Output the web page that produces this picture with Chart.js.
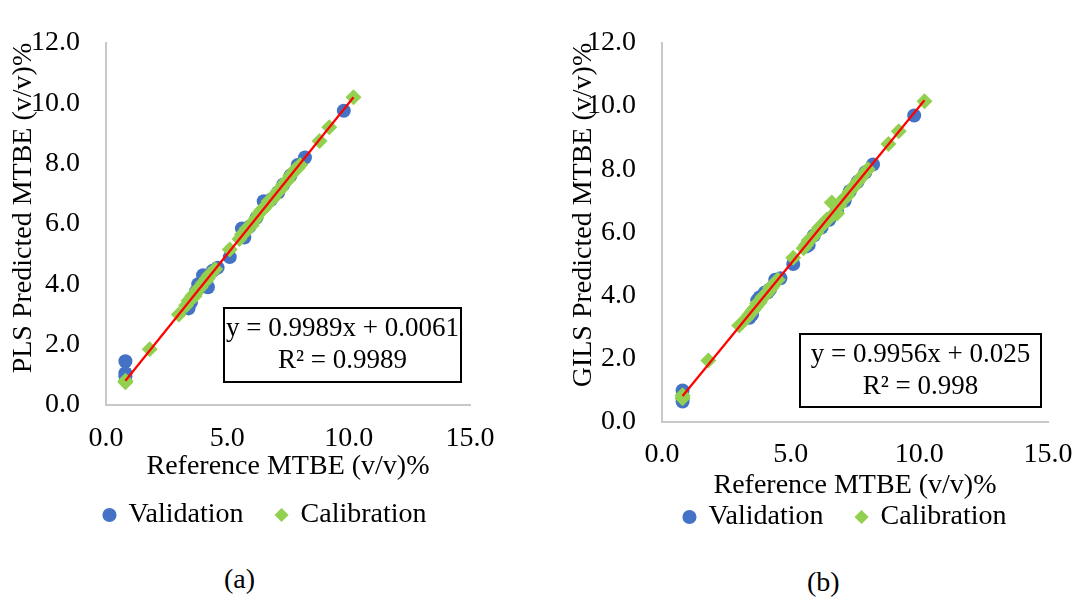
<!DOCTYPE html>
<html>
<head>
<meta charset="utf-8">
<script src="https://cdn.jsdelivr.net/npm/chart.js@4.4.1/dist/chart.umd.min.js"></script>
<style>
  html, body { margin: 0; padding: 0; background: #fff; overflow: hidden; }
  #wrap { position: relative; width: 1077px; height: 605px; overflow: hidden; }
  canvas { position: absolute; top: 0; }
  .cap { position: absolute; font-family: 'Liberation Serif', 'Times New Roman', serif; font-size: 28px; color: #000; }
</style>
</head>
<body>
<div id="wrap">
  <canvas id="pls" width="531" height="539" style="left:0px"></canvas>
  <canvas id="gils" width="591" height="541" style="left:550px"></canvas>
  <div class="cap" style="left:224px; top:563px;">(a)</div>
  <div class="cap" style="left:807px; top:566px;">(b)</div>
</div>
<script>
// Reference MTBE (x) for the validation and calibration samples
const valRef = [0.8, 0.8, 0.8, 3.4, 3.5, 3.7, 3.8, 4.0, 4.1, 4.2, 4.4, 4.6, 5.1, 5.6, 5.7, 5.9, 6.2, 6.5, 6.8, 7.1, 7.3, 7.6, 7.9, 8.2, 9.8];
const calRef = [0.8, 0.8, 1.8, 3.0, 3.3, 3.4, 3.5, 3.55, 3.6, 3.65, 3.7, 3.75, 3.8, 3.9, 4.0, 4.1, 4.15, 4.2, 4.25, 4.3,
                4.5, 5.1, 5.5, 5.6, 5.7, 5.8, 5.9, 6.0, 6.1, 6.2, 6.3, 6.4, 6.5, 6.6, 6.7, 6.8, 6.9, 7.0, 7.1, 7.2,
                7.3, 7.4, 7.5, 7.6, 7.7, 7.8, 7.9, 8.0, 8.8, 9.2, 10.2];

// (a) PLS predicted
const plsVal = [1.45, 1.05, 0.95, 3.2, 3.4, 3.75, 4.0, 4.3, 4.0, 3.9, 4.45, 4.55, 4.9, 5.85, 5.55, 5.9, 6.2, 6.75, 6.8, 7.05, 7.3, 7.6, 7.95, 8.2, 9.75];
const plsCal = [0.8, 0.75, 1.85, 3.0, 3.3, 3.45, 3.5, 3.6, 3.65, 3.6, 3.7, 3.8, 3.85, 3.9, 4.05, 4.1, 4.2, 4.2, 4.3, 4.35,
                4.5, 5.15, 5.5, 5.65, 5.7, 5.85, 5.9, 5.95, 6.1, 6.2, 6.35, 6.45, 6.5, 6.6, 6.75, 6.8, 6.85, 7.0, 7.1, 7.15,
                7.3, 7.4, 7.45, 7.6, 7.7, 7.8, 7.85, 7.95, 8.75, 9.2, 10.2];
const plsFit = [0.9989, 0.0061];
const plsEq = ['y = 0.9989x + 0.0061', 'R² = 0.9989'];

// (b) GILS predicted
const gilsVal = [1.0, 0.75, 0.65, 3.3, 3.4, 3.85, 3.95, 4.1, 4.1, 4.2, 4.5, 4.55, 5.0, 5.55, 5.6, 5.9, 6.15, 6.4, 6.7, 7.0, 7.3, 7.6, 7.9, 8.15, 9.7];
const gilsCal = [0.85, 0.75, 1.95, 3.05, 3.3, 3.4, 3.5, 3.55, 3.6, 3.65, 3.75, 3.75, 3.8, 3.95, 4.0, 4.1, 4.15, 4.25, 4.25, 4.3,
                 4.5, 5.2, 5.5, 5.6, 5.75, 5.8, 5.9, 6.0, 6.15, 6.2, 6.3, 6.4, 6.45, 6.95, 6.6, 6.6, 6.85, 7.0, 7.1, 7.15,
                 7.3, 7.4, 7.5, 7.6, 7.7, 7.8, 7.9, 8.0, 8.8, 9.2, 10.15];
const gilsFit = [0.9956, 0.025];
const gilsEq = ['y = 0.9956x + 0.025', 'R² = 0.998'];

const xTickValues = [0, 5, 10, 15];
const yTickValues = [0, 2, 4, 6, 8, 10, 12];
const seriesNames = ['Validation', 'Calibration'];

const FONT = "'Liberation Serif', 'Times New Roman', serif";
const AXIS_GREY = '#C8C8C8';

const toPoints = (xs, ys) => xs.map((x, i) => ({ x: x, y: ys[i] }));

// equation box drawn on top of the plot
const eqBox = {
    id: 'eqBox',
    afterDatasetsDraw(chart, args, opts) {
        const { ctx, chartArea } = chart;
        const x = chartArea.right - opts.right - opts.w;
        const y = chartArea.bottom - opts.bottom - opts.h;
        ctx.save();
        ctx.fillStyle = '#fff';
        ctx.fillRect(x, y, opts.w, opts.h);
        ctx.strokeStyle = '#000';
        ctx.lineWidth = 2;
        ctx.strokeRect(x, y, opts.w, opts.h);
        ctx.fillStyle = '#000';
        ctx.font = '27px ' + FONT;
        ctx.textAlign = 'center';
        ctx.textBaseline = 'middle';
        opts.lines.forEach((t, i) => {
            ctx.fillText(t, x + opts.w / 2, y + opts.h / 2 - 16 + i * 32);
        });
        ctx.restore();
    }
};

function makeChart(id, cfg) {
    const xs = [Math.min(...calRef), Math.max(...calRef)];
    new Chart(document.getElementById(id), {
        type: 'scatter',
        data: {
            datasets: [
                {
                    label: 'fit',
                    type: 'line',
                    data: xs.map(x => ({ x: x, y: cfg.fit[0] * x + cfg.fit[1] })),
                    borderColor: '#FF0000',
                    borderWidth: 2.2,
                    pointRadius: 0,
                    order: 0
                },
                {
                    label: seriesNames[0],
                    data: toPoints(valRef, cfg.val),
                    pointStyle: 'circle',
                    pointRadius: 7,
                    backgroundColor: '#4472C4',
                    borderColor: '#4472C4',
                    borderWidth: 0,
                    order: 2
                },
                {
                    label: seriesNames[1],
                    data: toPoints(calRef, cfg.cal),
                    pointStyle: 'rectRot',
                    pointRadius: 8,
                    backgroundColor: '#92D050',
                    borderColor: '#92D050',
                    borderWidth: 0,
                    order: 1
                }
            ]
        },
        options: {
            responsive: false,
            animation: false,
            events: [],
            layout: { padding: { top: cfg.top, left: 0, right: 0, bottom: 0 } },
            plugins: {
                tooltip: { enabled: false },
                legend: {
                    position: 'bottom',
                    labels: {
                        filter: item => item.text !== 'fit',
                        sort: (a, b) => a.datasetIndex - b.datasetIndex,
                        usePointStyle: true,
                        boxWidth: 10,
                        boxHeight: 10,
                        padding: 33,
                        color: '#000',
                        font: { family: FONT, size: 28 }
                    }
                },
                eqBox: cfg.box
            },
            scales: {
                x: {
                    type: 'linear',
                    min: 0,
                    max: 15,
                    afterBuildTicks: s => { s.ticks = xTickValues.map(v => ({ value: v })); },
                    afterFit: s => { s.height = cfg.xHeight; },
                    grid: { display: false, drawTicks: false },
                    border: { display: true, color: AXIS_GREY, width: 2 },
                    ticks: {
                        padding: cfg.xPad,
                        color: '#000',
                        font: { family: FONT, size: 28 },
                        callback: v => v.toFixed(1)
                    },
                    title: {
                        display: true,
                        text: 'Reference MTBE (v/v)%',
                        color: '#000',
                        font: { family: FONT, size: 28 },
                        padding: { top: 0, bottom: cfg.xTitlePad }
                    }
                },
                y: {
                    type: 'linear',
                    min: 0,
                    max: 12,
                    afterBuildTicks: s => { s.ticks = yTickValues.map(v => ({ value: v })); },
                    afterFit: s => { s.width = cfg.yWidth; },
                    grid: { display: false, drawTicks: false },
                    border: { display: true, color: AXIS_GREY, width: 2 },
                    ticks: {
                        padding: 26,
                        color: '#000',
                        font: { family: FONT, size: 28 },
                        callback: v => v.toFixed(1)
                    },
                    title: {
                        display: true,
                        text: cfg.yTitle,
                        align: 'end',
                        color: '#000',
                        font: { family: FONT, size: 28 },
                        padding: { top: cfg.yTitlePad, bottom: 0 }
                    }
                },
                // empty right-hand space so the legend centres like the original
                spacer: {
                    type: 'linear',
                    position: 'right',
                    ticks: { display: false },
                    grid: { display: false, drawTicks: false },
                    border: { display: false },
                    afterFit: s => { s.width = cfg.rightGap; }
                }
            }
        },
        plugins: [eqBox]
    });
}

makeChart('pls', {
    val: plsVal, cal: plsCal, fit: plsFit,
    yTitle: 'PLS Predicted MTBE (v/v)%',
    top: 40, yWidth: 106, yTitlePad: 7, rightGap: 61,
    xHeight: 63, xPad: 17, xTitlePad: -15,
    box: { lines: plsEq, w: 237, h: 74, right: 9, bottom: 23 }
});

makeChart('gils', {
    val: gilsVal, cal: gilsCal, fit: gilsFit,
    yTitle: 'GILS Predicted MTBE (v/v)%',
    top: 32, yWidth: 112, yTitlePad: 17, rightGap: 93,
    xHeight: 48, xPad: 16, xTitlePad: -32,
    box: { lines: gilsEq, w: 241, h: 73, right: 7, bottom: 15 }
});
</script>
</body>
</html>
